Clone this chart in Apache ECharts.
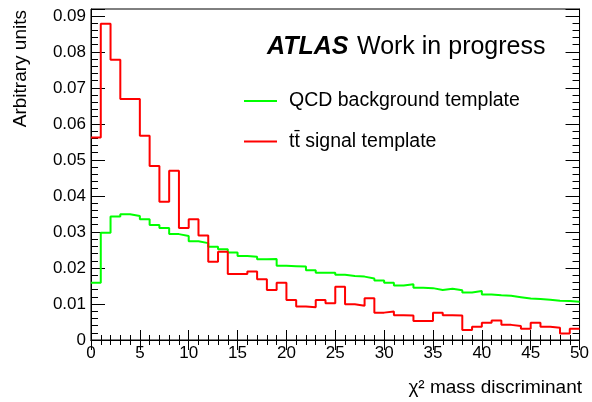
<!DOCTYPE html>
<html>
<head>
<meta charset="utf-8">
<script src="https://cdn.jsdelivr.net/npm/echarts@6/dist/echarts.min.js"></script>
<style>
html,body{margin:0;padding:0;background:#fff;}
#chart{width:592px;height:402px;}
</style>
</head>
<body>
<div id="chart"></div>
<script>
// bin edges of the chi^2 histogram (51 edges for 50 bins)
var binEdges = [0,1,2,3,4,5,6,7,8,9,10,11,12,13,14,15,16,17,18,19,20,21,22,23,24,25,26,27,28,29,30,31,32,33,34,35,36,37,38,39,40,41,42,43,44,45,46,47,48,49,50];
var seriesNames = ['QCD background template', 'tt\u0304 signal template'];
var qcdValues = [0.0159,0.0298,0.0343,0.0349,0.0344,0.0335,0.0319,0.0311,0.0294,0.0289,
                 0.0274,0.0269,0.0259,0.0252,0.0243,0.0233,0.0231,0.0224,0.0225,0.0206,
                 0.0205,0.0204,0.0194,0.0187,0.0187,0.0181,0.0178,0.0176,0.0171,0.0165,
                 0.0159,0.0151,0.0155,0.0145,0.0144,0.0139,0.0142,0.0138,0.0132,0.0136,
                 0.0126,0.0124,0.0123,0.0119,0.0115,0.0114,0.0112,0.0109,0.0108,0.0106];
var signalValues = [0.0562,0.0878,0.0778,0.0669,0.0669,0.0567,0.0483,0.0384,0.0470,0.0311,
                    0.0335,0.0290,0.0217,0.0245,0.0183,0.0183,0.0190,0.0169,0.0139,0.0159,
                    0.0111,0.0093,0.0091,0.0111,0.0102,0.0148,0.0099,0.0095,0.0116,0.0076,
                    0.0079,0.0069,0.0068,0.0053,0.0053,0.0076,0.0069,0.0068,0.0028,0.0037,
                    0.0048,0.0054,0.0042,0.0039,0.0031,0.0048,0.0037,0.0034,0.0018,0.0031];
var xTickLabels = ['0','5','10','15','20','25','30','35','40','45','50'];
var yTickLabels = ['0','0.01','0.02','0.03','0.04','0.05','0.06','0.07','0.08','0.09'];

function histPoints(vals){
  var pts = [];
  for (var i = 0; i < vals.length; i++) pts.push([binEdges[i], vals[i]]);
  pts.push([binEdges[vals.length], vals[vals.length-1]]);
  return pts;
}

var FONT = "'Liberation Sans', Arial, Helvetica, sans-serif";
var YMAX = 0.0919;

function yLabel(v){
  var k = Math.round(v*100);
  if (Math.abs(v*100 - k) > 1e-6) return '';
  return yTickLabels[k] !== undefined ? yTickLabels[k] : '';
}
function xLabel(v){
  var k = Math.round(v/5);
  if (Math.abs(v/5 - k) > 1e-6) return '';
  return xTickLabels[k] !== undefined ? xTickLabels[k] : '';
}

var chart = echarts.init(document.getElementById('chart'), null, {renderer:'canvas'});
var baseLine = {show:true, lineStyle:{color:'#000', width:1}};
chart.setOption({
  animation:false,
  backgroundColor:'#fff',
  textStyle:{fontFamily:FONT},
  grid:{left:91, right:10, top:9, bottom:62, show:true, borderColor:'#000', borderWidth:1, backgroundColor:'transparent'},
  xAxis:[
    {type:'value', position:'bottom', min:0, max:50, interval:5,
     axisLine:baseLine,
     axisTick:{show:true, inside:true, length:10, lineStyle:{color:'#000'}},
     minorTick:{show:true, splitNumber:5, length:5, lineStyle:{color:'#000'}},
     axisLabel:{show:true, margin:5, fontSize:17, color:'#000', fontFamily:FONT, formatter:xLabel},
     splitLine:{show:false}, minorSplitLine:{show:false}},
    {type:'value', position:'top', min:0, max:50, interval:5,
     axisLine:baseLine,
     axisTick:{show:true, inside:true, length:10, lineStyle:{color:'#000'}},
     minorTick:{show:true, splitNumber:5, length:5, lineStyle:{color:'#000'}},
     axisLabel:{show:false}, splitLine:{show:false}}
  ],
  yAxis:[
    {type:'value', position:'left', min:0, max:YMAX, interval:0.01,
     axisLine:baseLine,
     axisTick:{show:true, inside:true, length:14, lineStyle:{color:'#000'}},
     axisLabel:{show:true, margin:5, fontSize:17, color:'#000', fontFamily:FONT, formatter:yLabel},
     splitLine:{show:false}},
    {type:'value', position:'left', min:0, max:YMAX, interval:0.002,
     axisLine:{show:false},
     axisTick:{show:true, inside:true, length:7, lineStyle:{color:'#000'}},
     axisLabel:{show:false}, splitLine:{show:false}},
    {type:'value', position:'right', min:0, max:YMAX, interval:0.01,
     axisLine:baseLine,
     axisTick:{show:true, inside:true, length:14, lineStyle:{color:'#000'}},
     axisLabel:{show:false}, splitLine:{show:false}},
    {type:'value', position:'right', min:0, max:YMAX, interval:0.002,
     axisLine:{show:false},
     axisTick:{show:true, inside:true, length:7, lineStyle:{color:'#000'}},
     axisLabel:{show:false}, splitLine:{show:false}}
  ],
  legend:[
    {data:[seriesNames[0]], left:244, top:91, padding:0, orient:'vertical', icon:'rect', itemWidth:33, itemHeight:2,
     textStyle:{fontSize:19.5, color:'#000', fontFamily:FONT, padding:[0,0,0,7]}, selectedMode:false},
    {data:[seriesNames[1]], left:244, top:131.5, padding:0, orient:'vertical', icon:'rect', itemWidth:33, itemHeight:2,
     textStyle:{fontSize:19.5, color:'#000', fontFamily:FONT, padding:[0,0,0,7]}, selectedMode:false}
  ],
  series:[
    {name:seriesNames[0], type:'line', step:'end', xAxisIndex:0, yAxisIndex:0,
     data:histPoints(qcdValues), showSymbol:false, symbol:'none',
     lineStyle:{color:'#00ff00', width:2}, itemStyle:{color:'#00ff00'}},
    {name:seriesNames[1], type:'line', step:'end', xAxisIndex:0, yAxisIndex:0,
     data:histPoints(signalValues), showSymbol:false, symbol:'none',
     lineStyle:{color:'#ff0000', width:2}, itemStyle:{color:'#ff0000'}}
  ],
  graphic:[
    {type:'text', x:267, y:47, style:{text:'ATLAS', font:'italic bold 25px ' + FONT, fill:'#000', align:'left', verticalAlign:'middle'}},
    {type:'text', x:357, y:47, style:{text:'Work in progress', font:'normal 25px ' + FONT, fill:'#000', align:'left', verticalAlign:'middle'}},
    {type:'text', x:21, y:10, rotation:Math.PI/2, style:{text:'Arbitrary units', font:'normal 19px ' + FONT, fill:'#000', align:'right', verticalAlign:'middle'}},
    {type:'text', x:582, y:387.7, style:{text:'\u03c7\u00b2 mass discriminant', font:'normal 19px ' + FONT, fill:'#000', align:'right', verticalAlign:'middle'}}
  ]
});
</script>
</body>
</html>
